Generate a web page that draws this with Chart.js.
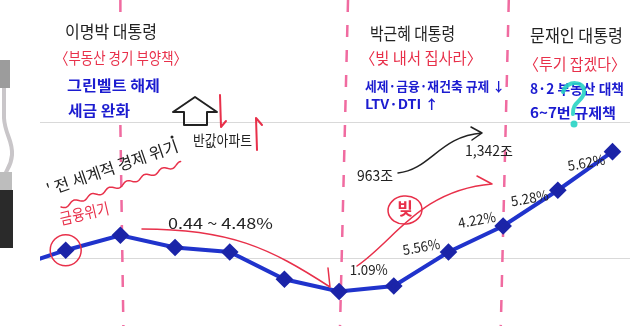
<!DOCTYPE html>
<html>
<head>
<meta charset="utf-8">
<script src="https://cdn.jsdelivr.net/npm/chart.js@4"></script>
<style>
  body { margin: 0; background: #fff; }
  #wrap { width: 640px; height: 326px; position: relative; }
</style>
</head>
<body>
<div id="wrap"><canvas id="chart"></canvas></div>
<script>
// points along the drawn line (index 0 sits under the clip on the left edge)
const steps = [0, 1, 2, 3, 4, 5, 6, 7, 8, 9, 10, 11];
const priceIndex = [15.6, 21.5, 26.4, 22.4, 20.9, 12.0, 8.0, 9.8, 20.9, 29.4, 41.1, 53.7];
// presidents' terms start (pink dashed lines), in step units
const termStarts = [2, 6.09, 9.03];
// rise rates written next to the last points
const rateSteps = [7, 8, 9, 10, 11];
const rateLabels = ["1.09%", "5.56%", "4.22%", "5.28%", "5.62%"];

const BLACK = "#222", RED = "#e8304a", BLUE = "#1c1cd0", PINK = "#f06ba0";
const FONT = "'Noto Sans CJK KR', 'Noto Sans', sans-serif";

// hand written notes: text, left x, middle y, width, size, colour, bold, rotation(deg)
const notes = [
  ["이명박 대통령", 65, 32, 92, 17, BLACK, false, 0],
  ["〈부동산 경기 부양책〉", 55, 58, 132, 16, RED, false, 0],
  ["그린벨트 해제", 67, 85, 93, 15, BLUE, true, 0],
  ["세금 완화", 68, 110, 62, 15, BLUE, true, 0],
  ["반값아파트", 193, 140, 59, 15, BLACK, false, 0],
  ["박근혜 대통령", 370, 34, 85, 17, BLACK, false, 0],
  ["〈빚 내서 집사라〉", 360, 58, 122, 16, RED, false, 0],
  ["세제·금융·재건축 규제 ↓", 365, 86, 140, 13, BLUE, true, 0],
  ["LTV·DTI ↑", 365, 104, 74, 13, BLUE, true, 0],
  ["문재인 대통령", 530, 36, 93, 17, BLACK, false, 0],
  ["〈투기 잡겠다〉", 524, 64, 102, 16, RED, false, 0],
  ["8·2 부동산 대책", 530, 89, 94, 14, BLUE, true, 0],
  ["6~7번 규제책", 530, 113, 86, 14, BLUE, true, 0],
  ["0.44 ~ 4.48%", 168, 223, 105, 15, BLACK, false, 0],
  ["963조", 357, 175, 36, 15, BLACK, false, 0],
  ["1,342조", 465, 151, 48, 14, BLACK, false, 0],
  ["금융위기", 60, 219, 50, 16, RED, false, -13],
  ["' 전 세계적 경제 위기", 47, 190, 138, 16, BLACK, false, -19]
];
// offsets of the rate labels from their points (right end, middle)
const rateOffsets = [[-6, -16], [-8, -2], [-7, -3], [-9, 11], [-7, 14]];

function drawNote(ctx, n) {
  const [t, x, y, w, size, color, bold, rot] = n;
  ctx.save();
  ctx.font = (bold ? "bold " : "") + size + "px " + FONT;
  ctx.fillStyle = color;
  ctx.textBaseline = "middle";
  ctx.textAlign = "left";
  const mw = ctx.measureText(t).width;
  ctx.translate(x, y);
  ctx.rotate(rot * Math.PI / 180);
  ctx.scale(w / mw, 1);
  ctx.fillText(t, 0, 0);
  ctx.restore();
}

const sketch = {
  id: "sketch",
  beforeDatasetsDraw(chart) {
    const ctx = chart.ctx, xs = chart.scales.x, area = chart.chartArea;
    ctx.save();
    // notebook rules
    ctx.strokeStyle = "#d9d9d9";
    ctx.lineWidth = 1;
    [122.5, 258.5].forEach(y => {
      ctx.beginPath(); ctx.moveTo(area.left, y); ctx.lineTo(area.right, y); ctx.stroke();
    });
    // clip / pen on the left edge
    ctx.fillStyle = "#9c9c9c";
    ctx.fillRect(0, 60, 10, 28);
    ctx.strokeStyle = "#c9c6c9";
    ctx.lineWidth = 4;
    ctx.beginPath();
    ctx.moveTo(4, 88); ctx.lineTo(4, 118);
    ctx.bezierCurveTo(5, 135, 13, 140, 12, 155);
    ctx.bezierCurveTo(11, 168, 5, 170, 5, 176);
    ctx.stroke();
    ctx.fillStyle = "#bdbdbd";
    ctx.fillRect(0, 172, 12, 20);
    ctx.fillStyle = "#2a2a2a";
    ctx.fillRect(0, 190, 13, 58);
    // pink dashed term lines
    ctx.strokeStyle = PINK;
    ctx.lineWidth = 2.5;
    ctx.setLineDash([12, 13]);
    termStarts.forEach((s, i) => {
      const x = xs.getPixelForValue(s);
      ctx.beginPath();
      if (i === 0) {
        ctx.moveTo(x, 0); ctx.lineTo(x, 12);
        ctx.moveTo(x, 125); ctx.lineTo(x + 3, 326);
      } else {
        ctx.moveTo(x + 4, 0); ctx.lineTo(x - 4, 326);
      }
      ctx.stroke();
    });
    ctx.restore();
  },
  afterDatasetsDraw(chart) {
    const ctx = chart.ctx, xs = chart.scales.x, ys = chart.scales.y;
    ctx.save();
    ctx.lineCap = "round";
    ctx.lineJoin = "round";
    ctx.strokeStyle = RED;
    ctx.lineWidth = 1.5;
    // red circle round the second point
    ctx.beginPath();
    ctx.arc(xs.getPixelForValue(1), ys.getPixelForValue(priceIndex[1]), 15.5, 0, Math.PI * 2);
    ctx.stroke();
    // red falling arrow
    ctx.beginPath();
    ctx.moveTo(142, 229);
    ctx.bezierCurveTo(230, 229, 270, 248, 330, 287);
    ctx.moveTo(328, 268); ctx.lineTo(330, 287);
    ctx.stroke();
    // red rising arrow
    ctx.beginPath();
    ctx.moveTo(357, 266);
    ctx.bezierCurveTo(395, 240, 420, 190, 492, 184);
    ctx.moveTo(477, 176); ctx.lineTo(492, 184);
    ctx.stroke();
    ctx.beginPath();
    ctx.ellipse(405, 210, 17, 14, -0.1, 0, Math.PI * 2);
    ctx.stroke();
    // red wavy underline
    const x0 = 61, y0 = 207, x1 = 182, y1 = 163;
    const len = Math.hypot(x1 - x0, y1 - y0), ang = Math.atan2(y1 - y0, x1 - x0);
    ctx.beginPath();
    for (let s = 0; s <= len; s++) {
      const d = Math.sin(s / 3) * 2;
      const px = x0 + Math.cos(ang) * s - Math.sin(ang) * d;
      const py = y0 + Math.sin(ang) * s + Math.cos(ang) * d;
      if (s === 0) ctx.moveTo(px, py); else ctx.lineTo(px, py);
    }
    ctx.stroke();
    // red up / down arrows
    ctx.lineWidth = 2;
    ctx.beginPath();
    ctx.moveTo(220, 95); ctx.lineTo(221, 127); ctx.lineTo(226, 121);
    ctx.moveTo(257, 150); ctx.lineTo(256, 118); ctx.lineTo(262, 125);
    ctx.stroke();
    ctx.font = "bold 17px " + FONT;
    ctx.fillStyle = RED;
    ctx.textAlign = "center";
    ctx.textBaseline = "middle";
    ctx.fillText("빚", 405, 209);
    // outline up arrow
    ctx.strokeStyle = BLACK;
    ctx.lineWidth = 2;
    ctx.beginPath();
    ctx.moveTo(173, 112); ctx.lineTo(195, 97); ctx.lineTo(217, 112);
    ctx.lineTo(207, 112); ctx.lineTo(207, 125); ctx.lineTo(184, 125);
    ctx.lineTo(184, 112); ctx.closePath();
    ctx.stroke();
    // 963조 -> 1,342조 arrow
    ctx.lineWidth = 1.5;
    ctx.beginPath();
    ctx.moveTo(398, 173);
    ctx.bezierCurveTo(430, 170, 440, 136, 482, 133);
    ctx.moveTo(471, 127); ctx.lineTo(482, 133); ctx.lineTo(472, 140);
    ctx.stroke();
    ctx.fillStyle = BLACK;
    ctx.beginPath(); ctx.arc(172, 137, 1.5, 0, Math.PI * 2); ctx.fill();
    ctx.restore();

    notes.forEach(n => drawNote(ctx, n));
    rateLabels.forEach((t, i) => {
      const px = xs.getPixelForValue(rateSteps[i]) + rateOffsets[i][0];
      const py = ys.getPixelForValue(priceIndex[steps.indexOf(rateSteps[i])]) + rateOffsets[i][1];
      drawNote(ctx, [t, px - 38, py, 38, 14, BLACK, false, i === 0 ? 0 : -10]);
    });

    // cyan question mark scribbled over the Moon notes
    ctx.save();
    ctx.strokeStyle = "rgba(40, 212, 196, 0.9)";
    ctx.fillStyle = "rgba(40, 212, 196, 0.9)";
    ctx.lineWidth = 4;
    ctx.lineCap = "round";
    ctx.beginPath();
    ctx.moveTo(563, 92);
    ctx.bezierCurveTo(566, 80, 586, 80, 584, 93);
    ctx.bezierCurveTo(582, 102, 572, 102, 573, 114);
    ctx.stroke();
    ctx.beginPath(); ctx.arc(574, 124, 3.5, 0, Math.PI * 2); ctx.fill();
    ctx.restore();
  }
};

new Chart(document.getElementById("chart"), {
  type: "line",
  data: {
    datasets: [{
      data: steps.map((s, i) => ({ x: s, y: priceIndex[i] })),
      borderColor: "#2033cc",
      borderWidth: 4,
      pointStyle: "rectRot",
      pointRadius: 6,
      pointBackgroundColor: "#1b24a8",
      pointBorderColor: "#1b24a8",
      tension: 0,
      clip: 0
    }]
  },
  options: {
    responsive: true,
    maintainAspectRatio: false,
    animation: false,
    layout: { padding: { left: 40, right: 0, top: 0, bottom: 0 } },
    plugins: { legend: { display: false }, tooltip: { enabled: false } },
    scales: {
      x: { type: "linear", min: 0.53, max: 11.32, display: false },
      y: { min: 0, max: 100, display: false }
    }
  },
  plugins: [sketch]
});
</script>
</body>
</html>
